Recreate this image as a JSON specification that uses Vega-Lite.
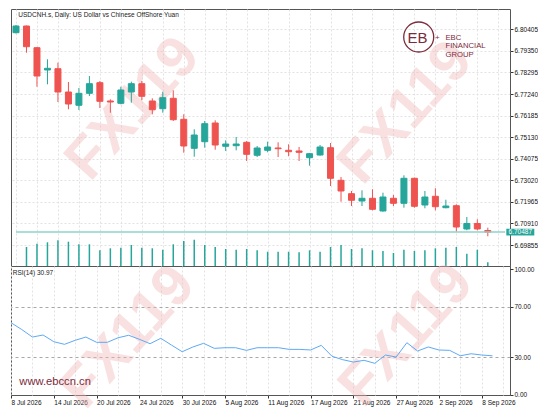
{
  "$schema": "https://vega.github.io/schema/vega-lite/v6.json",
  "background": "white",
  "padding": {"left": 10, "top": 8, "right": 0, "bottom": 0},
  "datasets": {
    "candles": [
      {"date": "2026-07-08", "i": 0, "o": 6.80239, "h": 6.80615, "l": 6.80200, "c": 6.80566, "v": null, "rsi": 57.3},
      {"date": "2026-07-09", "i": 1, "o": 6.80566, "h": 6.80591, "l": 6.79261, "c": 6.79554, "v": 19000, "rsi": 51.9},
      {"date": "2026-07-10", "i": 2, "o": 6.79505, "h": 6.79539, "l": 6.77598, "c": 6.78121, "v": 22300, "rsi": 45.9},
      {"date": "2026-07-13", "i": 3, "o": 6.78415, "h": 6.78938, "l": 6.77715, "c": 6.78498, "v": 23700, "rsi": 47.5},
      {"date": "2026-07-14", "i": 4, "o": 6.78478, "h": 6.78772, "l": 6.76850, "c": 6.77339, "v": 25700, "rsi": 42.2},
      {"date": "2026-07-15", "i": 5, "o": 6.77339, "h": 6.77828, "l": 6.76493, "c": 6.76752, "v": 24300, "rsi": 40.1},
      {"date": "2026-07-16", "i": 6, "o": 6.76689, "h": 6.77535, "l": 6.76459, "c": 6.77275, "v": 21700, "rsi": 43.3},
      {"date": "2026-07-17", "i": 7, "o": 6.77275, "h": 6.78121, "l": 6.77143, "c": 6.77745, "v": 21700, "rsi": 45.9},
      {"date": "2026-07-20", "i": 8, "o": 6.77794, "h": 6.77877, "l": 6.76557, "c": 6.76884, "v": 15700, "rsi": 41.7},
      {"date": "2026-07-21", "i": 9, "o": 6.76899, "h": 6.76982, "l": 6.76327, "c": 6.76850, "v": 17700, "rsi": 41.7},
      {"date": "2026-07-22", "i": 10, "o": 6.76786, "h": 6.77598, "l": 6.76762, "c": 6.77437, "v": 18300, "rsi": 45.3},
      {"date": "2026-07-23", "i": 11, "o": 6.77339, "h": 6.77843, "l": 6.76816, "c": 6.77745, "v": 21000, "rsi": 47.3},
      {"date": "2026-07-24", "i": 12, "o": 6.77745, "h": 6.77877, "l": 6.76933, "c": 6.77129, "v": 18300, "rsi": 44.1},
      {"date": "2026-07-27", "i": 13, "o": 6.76899, "h": 6.77031, "l": 6.76248, "c": 6.76473, "v": 17700, "rsi": 40.6},
      {"date": "2026-07-28", "i": 14, "o": 6.76522, "h": 6.77354, "l": 6.76327, "c": 6.77060, "v": 16300, "rsi": 44.9},
      {"date": "2026-07-29", "i": 15, "o": 6.77031, "h": 6.77422, "l": 6.75921, "c": 6.75984, "v": 21700, "rsi": 39.5},
      {"date": "2026-07-30", "i": 16, "o": 6.76004, "h": 6.76248, "l": 6.74371, "c": 6.74698, "v": 25000, "rsi": 34.2},
      {"date": "2026-07-31", "i": 17, "o": 6.74586, "h": 6.75515, "l": 6.74175, "c": 6.75236, "v": 26300, "rsi": 38.0},
      {"date": "2026-08-03", "i": 18, "o": 6.74909, "h": 6.75921, "l": 6.74615, "c": 6.75789, "v": 21000, "rsi": 40.9},
      {"date": "2026-08-04", "i": 19, "o": 6.75823, "h": 6.75955, "l": 6.74517, "c": 6.74747, "v": 19000, "rsi": 36.9},
      {"date": "2026-08-05", "i": 20, "o": 6.74684, "h": 6.74977, "l": 6.74454, "c": 6.74796, "v": 17000, "rsi": 37.4},
      {"date": "2026-08-06", "i": 21, "o": 6.74713, "h": 6.75138, "l": 6.74488, "c": 6.74796, "v": 16300, "rsi": 37.4},
      {"date": "2026-08-07", "i": 22, "o": 6.74879, "h": 6.74943, "l": 6.73965, "c": 6.74292, "v": 17000, "rsi": 35.3},
      {"date": "2026-08-10", "i": 23, "o": 6.74244, "h": 6.74698, "l": 6.74160, "c": 6.74601, "v": 15700, "rsi": 37.4},
      {"date": "2026-08-11", "i": 24, "o": 6.74488, "h": 6.74909, "l": 6.74390, "c": 6.74649, "v": 14300, "rsi": 37.4},
      {"date": "2026-08-12", "i": 25, "o": 6.74601, "h": 6.74879, "l": 6.74160, "c": 6.74566, "v": 14300, "rsi": 37.4},
      {"date": "2026-08-13", "i": 26, "o": 6.74488, "h": 6.74781, "l": 6.74195, "c": 6.74420, "v": 14300, "rsi": 36.1},
      {"date": "2026-08-14", "i": 27, "o": 6.74454, "h": 6.74649, "l": 6.73965, "c": 6.74390, "v": 13700, "rsi": 36.1},
      {"date": "2026-08-17", "i": 28, "o": 6.74126, "h": 6.74356, "l": 6.73735, "c": 6.74322, "v": 15700, "rsi": 35.6},
      {"date": "2026-08-18", "i": 29, "o": 6.74258, "h": 6.74747, "l": 6.74224, "c": 6.74649, "v": 14300, "rsi": 39.3},
      {"date": "2026-08-19", "i": 30, "o": 6.74615, "h": 6.74845, "l": 6.72742, "c": 6.73119, "v": 19000, "rsi": 30.6},
      {"date": "2026-08-20", "i": 31, "o": 6.73021, "h": 6.73182, "l": 6.71975, "c": 6.72498, "v": 21000, "rsi": 27.9},
      {"date": "2026-08-21", "i": 32, "o": 6.72366, "h": 6.72498, "l": 6.71764, "c": 6.72043, "v": 17000, "rsi": 26.0},
      {"date": "2026-08-24", "i": 33, "o": 6.72009, "h": 6.72532, "l": 6.71764, "c": 6.72141, "v": 17700, "rsi": 27.4},
      {"date": "2026-08-25", "i": 34, "o": 6.72141, "h": 6.72581, "l": 6.71554, "c": 6.71603, "v": 15700, "rsi": 25.0},
      {"date": "2026-08-26", "i": 35, "o": 6.71520, "h": 6.72415, "l": 6.71486, "c": 6.72204, "v": 15000, "rsi": 31.6},
      {"date": "2026-08-27", "i": 36, "o": 6.72141, "h": 6.72302, "l": 6.71764, "c": 6.71896, "v": 13000, "rsi": 30.0},
      {"date": "2026-08-28", "i": 37, "o": 6.71896, "h": 6.73265, "l": 6.71681, "c": 6.73119, "v": 16300, "rsi": 41.4},
      {"date": "2026-08-31", "i": 38, "o": 6.73119, "h": 6.73148, "l": 6.71681, "c": 6.71750, "v": 15000, "rsi": 34.8},
      {"date": "2026-09-01", "i": 39, "o": 6.71813, "h": 6.72498, "l": 6.71652, "c": 6.72204, "v": 15700, "rsi": 38.0},
      {"date": "2026-09-02", "i": 40, "o": 6.72239, "h": 6.72630, "l": 6.71554, "c": 6.71730, "v": 17700, "rsi": 35.6},
      {"date": "2026-09-03", "i": 41, "o": 6.71681, "h": 6.72072, "l": 6.71652, "c": 6.71764, "v": 18300, "rsi": 35.3},
      {"date": "2026-09-04", "i": 42, "o": 6.71779, "h": 6.71847, "l": 6.70508, "c": 6.70737, "v": 19000, "rsi": 31.0},
      {"date": "2026-09-07", "i": 43, "o": 6.70640, "h": 6.71226, "l": 6.70576, "c": 6.70909, "v": 12300, "rsi": 32.6},
      {"date": "2026-09-08", "i": 44, "o": 6.70909, "h": 6.71114, "l": 6.70576, "c": 6.70640, "v": 16300, "rsi": 31.6},
      {"date": "2026-09-09", "i": 45, "o": 6.70566, "h": 6.70703, "l": 6.70283, "c": 6.70487, "v": 3700, "rsi": 30.97}
    ]
  },
  "spacing": 0,
  "bounds": "flush",
  "vconcat": [
    {
      "width": 499,
      "height": 257,
      "data": {"name": "candles"},
      "layer": [
        {
          "layer": [
            {
              "transform": [{"filter": "datum.i === 0"}],
              "mark": {"type": "text", "text": "FX119", "font": "Liberation Sans", "fontWeight": "bold", "fontSize": 58, "angle": 312, "align": "center", "baseline": "middle", "color": "#f2b8b8", "opacity": 0.42, "clip": false},
              "encoding": {
                "x": {"datum": 11.2, "type": "quantitative", "scale": {"domain": [0, 46.64], "nice": false, "zero": false}, "axis": {"title": null, "labels": false, "ticks": false, "domain": false, "grid": true, "minExtent": 0, "maxExtent": 0, "values": [0,2,4,6,8,10,12,14,16,18,20,22,24,26,28,30,32,34,36,38,40,42,44,46]}},
                "y": {"datum": 6.76508, "type": "quantitative", "scale": {"domain": [6.6883, 6.81398], "nice": false, "zero": false}, "axis": {"orient": "right", "title": null, "values": [6.69855, 6.7091, 6.71965, 6.7302, 6.74075, 6.7513, 6.76185, 6.7724, 6.78295, 6.7935, 6.80405], "format": ".5f", "grid": true, "domain": false, "tickSize": 3, "labelPadding": 1}}
              }
            },
            {
              "transform": [{"filter": "datum.i === 0"}],
              "mark": {"type": "text", "text": "FX119", "font": "Liberation Sans", "fontWeight": "bold", "fontSize": 58, "angle": 312, "align": "center", "baseline": "middle", "color": "#f2b8b8", "opacity": 0.42, "clip": false},
              "encoding": {
                "x": {"datum": 37.2, "type": "quantitative", "scale": {"domain": [0, 46.64], "nice": false, "zero": false}, "axis": {"title": null, "labels": false, "ticks": false, "domain": false, "grid": true, "minExtent": 0, "maxExtent": 0, "values": [0,2,4,6,8,10,12,14,16,18,20,22,24,26,28,30,32,34,36,38,40,42,44,46]}},
                "y": {"datum": 6.76312, "type": "quantitative", "scale": {"domain": [6.6883, 6.81398], "nice": false, "zero": false}, "axis": {"orient": "right", "title": null, "values": [6.69855, 6.7091, 6.71965, 6.7302, 6.74075, 6.7513, 6.76185, 6.7724, 6.78295, 6.7935, 6.80405], "format": ".5f", "grid": true, "domain": false, "tickSize": 3, "labelPadding": 1}}
              }
            },
            {
              "transform": [{"filter": "datum.i === 0"}],
              "mark": {"type": "text", "text": "USDCNH.s, Daily:  US Dollar vs Chinese OffShore Yuan", "font": "Liberation Sans", "fontSize": 6.5, "align": "left", "baseline": "alphabetic", "color": "#222222", "clip": false},
              "encoding": {
                "x": {"datum": 0.22, "type": "quantitative", "scale": {"domain": [0, 46.64], "nice": false, "zero": false}, "axis": {"title": null, "labels": false, "ticks": false, "domain": false, "grid": true, "minExtent": 0, "maxExtent": 0, "values": [0,2,4,6,8,10,12,14,16,18,20,22,24,26,28,30,32,34,36,38,40,42,44,46]}},
                "y": {"datum": 6.81, "type": "quantitative", "scale": {"domain": [6.6883, 6.81398], "nice": false, "zero": false}, "axis": {"orient": "right", "title": null, "values": [6.69855, 6.7091, 6.71965, 6.7302, 6.74075, 6.7513, 6.76185, 6.7724, 6.78295, 6.7935, 6.80405], "format": ".5f", "grid": true, "domain": false, "tickSize": 3, "labelPadding": 1}}
              }
            },
            {
              "transform": [{"filter": "datum.i === 0"}],
              "mark": {"type": "point", "shape": "circle", "filled": false, "size": 900, "stroke": "#7b2c3c", "strokeWidth": 1.3, "opacity": 1, "clip": false},
              "encoding": {
                "x": {"datum": 38.41, "type": "quantitative", "scale": {"domain": [0, 46.64], "nice": false, "zero": false}, "axis": {"title": null, "labels": false, "ticks": false, "domain": false, "grid": true, "minExtent": 0, "maxExtent": 0, "values": [0,2,4,6,8,10,12,14,16,18,20,22,24,26,28,30,32,34,36,38,40,42,44,46]}},
                "y": {"datum": 6.80028, "type": "quantitative", "scale": {"domain": [6.6883, 6.81398], "nice": false, "zero": false}, "axis": {"orient": "right", "title": null, "values": [6.69855, 6.7091, 6.71965, 6.7302, 6.74075, 6.7513, 6.76185, 6.7724, 6.78295, 6.7935, 6.80405], "format": ".5f", "grid": true, "domain": false, "tickSize": 3, "labelPadding": 1}}
              }
            },
            {
              "transform": [{"filter": "datum.i === 0"}],
              "mark": {"type": "text", "text": "EB", "font": "Liberation Sans", "fontSize": 15, "align": "center", "baseline": "middle", "color": "#7b2c3c", "clip": false},
              "encoding": {
                "x": {"datum": 38.3, "type": "quantitative", "scale": {"domain": [0, 46.64], "nice": false, "zero": false}, "axis": {"title": null, "labels": false, "ticks": false, "domain": false, "grid": true, "minExtent": 0, "maxExtent": 0, "values": [0,2,4,6,8,10,12,14,16,18,20,22,24,26,28,30,32,34,36,38,40,42,44,46]}},
                "y": {"datum": 6.7998, "type": "quantitative", "scale": {"domain": [6.6883, 6.81398], "nice": false, "zero": false}, "axis": {"orient": "right", "title": null, "values": [6.69855, 6.7091, 6.71965, 6.7302, 6.74075, 6.7513, 6.76185, 6.7724, 6.78295, 6.7935, 6.80405], "format": ".5f", "grid": true, "domain": false, "tickSize": 3, "labelPadding": 1}}
              }
            },
            {
              "transform": [{"filter": "datum.i === 0"}],
              "mark": {"type": "text", "text": "+", "font": "Liberation Sans", "fontSize": 8, "align": "center", "baseline": "middle", "color": "#7b2c3c", "clip": false},
              "encoding": {
                "x": {"datum": 40.19, "type": "quantitative", "scale": {"domain": [0, 46.64], "nice": false, "zero": false}, "axis": {"title": null, "labels": false, "ticks": false, "domain": false, "grid": true, "minExtent": 0, "maxExtent": 0, "values": [0,2,4,6,8,10,12,14,16,18,20,22,24,26,28,30,32,34,36,38,40,42,44,46]}},
                "y": {"datum": 6.7998, "type": "quantitative", "scale": {"domain": [6.6883, 6.81398], "nice": false, "zero": false}, "axis": {"orient": "right", "title": null, "values": [6.69855, 6.7091, 6.71965, 6.7302, 6.74075, 6.7513, 6.76185, 6.7724, 6.78295, 6.7935, 6.80405], "format": ".5f", "grid": true, "domain": false, "tickSize": 3, "labelPadding": 1}}
              }
            },
            {
              "transform": [{"filter": "datum.i === 0"}],
              "mark": {"type": "text", "text": "EBC\nFINANCIAL\nGROUP", "lineBreak": "\n", "lineHeight": 8.5, "font": "Liberation Sans", "fontSize": 7.7, "align": "left", "baseline": "middle", "color": "#7b2c3c", "clip": false},
              "encoding": {
                "x": {"datum": 40.96, "type": "quantitative", "scale": {"domain": [0, 46.64], "nice": false, "zero": false}, "axis": {"title": null, "labels": false, "ticks": false, "domain": false, "grid": true, "minExtent": 0, "maxExtent": 0, "values": [0,2,4,6,8,10,12,14,16,18,20,22,24,26,28,30,32,34,36,38,40,42,44,46]}},
                "y": {"datum": 6.79994, "type": "quantitative", "scale": {"domain": [6.6883, 6.81398], "nice": false, "zero": false}, "axis": {"orient": "right", "title": null, "values": [6.69855, 6.7091, 6.71965, 6.7302, 6.74075, 6.7513, 6.76185, 6.7724, 6.78295, 6.7935, 6.80405], "format": ".5f", "grid": true, "domain": false, "tickSize": 3, "labelPadding": 1}}
              }
            },
            {
              "mark": {"type": "rule", "strokeWidth": 1, "clip": true},
              "encoding": {
                "x": {"field": "i", "type": "quantitative", "scale": {"domain": [0, 46.64], "nice": false, "zero": false}, "axis": {"title": null, "labels": false, "ticks": false, "domain": false, "grid": true, "minExtent": 0, "maxExtent": 0, "values": [0,2,4,6,8,10,12,14,16,18,20,22,24,26,28,30,32,34,36,38,40,42,44,46]}},
                "y": {"field": "h", "type": "quantitative", "scale": {"domain": [6.6883, 6.81398], "nice": false, "zero": false}, "axis": {"orient": "right", "title": null, "values": [6.69855, 6.7091, 6.71965, 6.7302, 6.74075, 6.7513, 6.76185, 6.7724, 6.78295, 6.7935, 6.80405], "format": ".5f", "grid": true, "domain": false, "tickSize": 3, "labelPadding": 1}},
                "y2": {"field": "l"},
                "stroke": {"condition": {"test": "datum.c >= datum.o", "value": "#26a69a"}, "value": "#ef5350"}
              }
            },
            {
              "mark": {"type": "bar", "size": 6, "strokeWidth": 1, "clip": true},
              "encoding": {
                "x": {"field": "i", "type": "quantitative", "scale": {"domain": [0, 46.64], "nice": false, "zero": false}, "axis": {"title": null, "labels": false, "ticks": false, "domain": false, "grid": true, "minExtent": 0, "maxExtent": 0, "values": [0,2,4,6,8,10,12,14,16,18,20,22,24,26,28,30,32,34,36,38,40,42,44,46]}},
                "y": {"field": "o", "type": "quantitative", "scale": {"domain": [6.6883, 6.81398], "nice": false, "zero": false}, "axis": {"orient": "right", "title": null, "values": [6.69855, 6.7091, 6.71965, 6.7302, 6.74075, 6.7513, 6.76185, 6.7724, 6.78295, 6.7935, 6.80405], "format": ".5f", "grid": true, "domain": false, "tickSize": 3, "labelPadding": 1}},
                "y2": {"field": "c"},
                "fill": {"condition": {"test": "datum.c >= datum.o", "value": "#26a69a"}, "value": "#ef5350"},
                "stroke": {"condition": {"test": "datum.c >= datum.o", "value": "#26a69a"}, "value": "#ef5350"}
              }
            },
            {
              "transform": [{"filter": "datum.i === 45"}],
              "mark": {"type": "rule", "strokeWidth": 1.5, "color": "#8fd3c9"},
              "encoding": {
                "x": {"datum": 0, "type": "quantitative", "scale": {"domain": [0, 46.64], "nice": false, "zero": false}, "axis": {"title": null, "labels": false, "ticks": false, "domain": false, "grid": true, "minExtent": 0, "maxExtent": 0, "values": [0,2,4,6,8,10,12,14,16,18,20,22,24,26,28,30,32,34,36,38,40,42,44,46]}},
                "x2": {"datum": 46.64},
                "y": {"field": "c", "type": "quantitative", "scale": {"domain": [6.6883, 6.81398], "nice": false, "zero": false}, "axis": {"orient": "right", "title": null, "values": [6.69855, 6.7091, 6.71965, 6.7302, 6.74075, 6.7513, 6.76185, 6.7724, 6.78295, 6.7935, 6.80405], "format": ".5f", "grid": true, "domain": false, "tickSize": 3, "labelPadding": 1}}
              }
            },
            {
              "transform": [{"filter": "datum.i === 45"}],
              "mark": {"type": "point", "shape": "M-1,-0.24H1V0.24H-1Z", "filled": true, "size": 784, "color": "#26a69a", "opacity": 1, "clip": false},
              "encoding": {
                "x": {"datum": 48.1, "type": "quantitative", "scale": {"domain": [0, 46.64], "nice": false, "zero": false}, "axis": {"title": null, "labels": false, "ticks": false, "domain": false, "grid": true, "minExtent": 0, "maxExtent": 0, "values": [0,2,4,6,8,10,12,14,16,18,20,22,24,26,28,30,32,34,36,38,40,42,44,46]}},
                "y": {"field": "c", "type": "quantitative", "scale": {"domain": [6.6883, 6.81398], "nice": false, "zero": false}, "axis": {"orient": "right", "title": null, "values": [6.69855, 6.7091, 6.71965, 6.7302, 6.74075, 6.7513, 6.76185, 6.7724, 6.78295, 6.7935, 6.80405], "format": ".5f", "grid": true, "domain": false, "tickSize": 3, "labelPadding": 1}}
              }
            },
            {
              "transform": [{"filter": "datum.i === 45"}],
              "mark": {"type": "text", "font": "Liberation Sans", "fontSize": 6.5, "align": "center", "baseline": "middle", "color": "white", "clip": false},
              "encoding": {
                "x": {"datum": 48.1, "type": "quantitative", "scale": {"domain": [0, 46.64], "nice": false, "zero": false}, "axis": {"title": null, "labels": false, "ticks": false, "domain": false, "grid": true, "minExtent": 0, "maxExtent": 0, "values": [0,2,4,6,8,10,12,14,16,18,20,22,24,26,28,30,32,34,36,38,40,42,44,46]}},
                "y": {"field": "c", "type": "quantitative", "scale": {"domain": [6.6883, 6.81398], "nice": false, "zero": false}, "axis": {"orient": "right", "title": null, "values": [6.69855, 6.7091, 6.71965, 6.7302, 6.74075, 6.7513, 6.76185, 6.7724, 6.78295, 6.7935, 6.80405], "format": ".5f", "grid": true, "domain": false, "tickSize": 3, "labelPadding": 1}},
                "text": {"field": "c", "format": ".5f"}
              }
            }
          ]
        },
        {
          "mark": {"type": "bar", "size": 1.5, "color": "#26a69a", "clip": true},
          "encoding": {
            "x": {"field": "i", "type": "quantitative", "scale": {"domain": [0, 46.64], "nice": false, "zero": false}, "axis": {"title": null, "labels": false, "ticks": false, "domain": false, "grid": true, "minExtent": 0, "maxExtent": 0, "values": [0,2,4,6,8,10,12,14,16,18,20,22,24,26,28,30,32,34,36,38,40,42,44,46]}},
            "y": {"field": "v", "type": "quantitative", "scale": {"domain": [0, 257000], "nice": false}, "axis": null}
          }
        }
      ],
      "resolve": {"scale": {"y": "independent"}}
    },
    {
      "width": 499,
      "height": 129,
      "data": {"name": "candles"},
      "layer": [
        {
          "transform": [{"filter": "datum.i === 0"}],
          "mark": {"type": "text", "text": "FX119", "font": "Liberation Sans", "fontWeight": "bold", "fontSize": 58, "angle": 312, "align": "center", "baseline": "middle", "color": "#f2b8b8", "opacity": 0.42, "clip": false},
          "encoding": {
            "x": {"datum": 11.0, "type": "quantitative", "scale": {"domain": [0, 46.64], "nice": false, "zero": false}, "axis": {"title": null, "domain": false, "grid": true, "values": [0,2,4,6,8,10,12,14,16,18,20,22,24,26,28,30,32,34,36,38,40,42,44,46], "tickSize": 3, "tickOpacity": {"condition": {"test": "datum.value % 4 === 0", "value": 1}, "value": 0}, "labelAlign": "left", "labelPadding": 1, "labelOverlap": false, "labelBound": false, "labelFlush": false, "labelExpr": "datum.value % 4 === 0 ? ['8 Jul 2026','14 Jul 2026','20 Jul 2026','24 Jul 2026','30 Jul 2026','5 Aug 2026','11 Aug 2026','17 Aug 2026','21 Aug 2026','27 Aug 2026','2 Sep 2026','8 Sep 2026'][datum.value / 4] : ''"}},
            "y": {"datum": 45.5, "type": "quantitative", "scale": {"domain": [-0.2, 102.4], "nice": false, "zero": false}, "axis": {"orient": "right", "title": null, "values": [0, 30, 70, 100], "format": ".2f", "domain": false, "tickSize": 3, "labelPadding": 1, "grid": true, "gridColor": "#a8a8a8", "gridDash": [3, 3], "gridOpacity": {"condition": {"test": "datum.value === 30 || datum.value === 70", "value": 1}, "value": 0}}}
          }
        },
        {
          "transform": [{"filter": "datum.i === 0"}],
          "mark": {"type": "text", "text": "FX119", "font": "Liberation Sans", "fontWeight": "bold", "fontSize": 58, "angle": 312, "align": "center", "baseline": "middle", "color": "#f2b8b8", "opacity": 0.42, "clip": false},
          "encoding": {
            "x": {"datum": 37.0, "type": "quantitative", "scale": {"domain": [0, 46.64], "nice": false, "zero": false}, "axis": {"title": null, "domain": false, "grid": true, "values": [0,2,4,6,8,10,12,14,16,18,20,22,24,26,28,30,32,34,36,38,40,42,44,46], "tickSize": 3, "tickOpacity": {"condition": {"test": "datum.value % 4 === 0", "value": 1}, "value": 0}, "labelAlign": "left", "labelPadding": 1, "labelOverlap": false, "labelBound": false, "labelFlush": false, "labelExpr": "datum.value % 4 === 0 ? ['8 Jul 2026','14 Jul 2026','20 Jul 2026','24 Jul 2026','30 Jul 2026','5 Aug 2026','11 Aug 2026','17 Aug 2026','21 Aug 2026','27 Aug 2026','2 Sep 2026','8 Sep 2026'][datum.value / 4] : ''"}},
            "y": {"datum": 47.0, "type": "quantitative", "scale": {"domain": [-0.2, 102.4], "nice": false, "zero": false}, "axis": {"orient": "right", "title": null, "values": [0, 30, 70, 100], "format": ".2f", "domain": false, "tickSize": 3, "labelPadding": 1, "grid": true, "gridColor": "#a8a8a8", "gridDash": [3, 3], "gridOpacity": {"condition": {"test": "datum.value === 30 || datum.value === 70", "value": 1}, "value": 0}}}
          }
        },
        {
          "transform": [{"filter": "datum.i === 0"}],
          "mark": {"type": "text", "text": "www.ebccn.cn", "font": "Liberation Sans", "fontSize": 11.2, "align": "left", "baseline": "middle", "color": "#7b2c3c", "clip": false},
          "encoding": {
            "x": {"datum": 0.78, "type": "quantitative", "scale": {"domain": [0, 46.64], "nice": false, "zero": false}, "axis": {"title": null, "domain": false, "grid": true, "values": [0,2,4,6,8,10,12,14,16,18,20,22,24,26,28,30,32,34,36,38,40,42,44,46], "tickSize": 3, "tickOpacity": {"condition": {"test": "datum.value % 4 === 0", "value": 1}, "value": 0}, "labelAlign": "left", "labelPadding": 1, "labelOverlap": false, "labelBound": false, "labelFlush": false, "labelExpr": "datum.value % 4 === 0 ? ['8 Jul 2026','14 Jul 2026','20 Jul 2026','24 Jul 2026','30 Jul 2026','5 Aug 2026','11 Aug 2026','17 Aug 2026','21 Aug 2026','27 Aug 2026','2 Sep 2026','8 Sep 2026'][datum.value / 4] : ''"}},
            "y": {"datum": 10.1, "type": "quantitative", "scale": {"domain": [-0.2, 102.4], "nice": false, "zero": false}, "axis": {"orient": "right", "title": null, "values": [0, 30, 70, 100], "format": ".2f", "domain": false, "tickSize": 3, "labelPadding": 1, "grid": true, "gridColor": "#a8a8a8", "gridDash": [3, 3], "gridOpacity": {"condition": {"test": "datum.value === 30 || datum.value === 70", "value": 1}, "value": 0}}}
          }
        },
        {
          "transform": [{"filter": "datum.i === 0"}],
          "mark": {"type": "text", "text": "RSI(14) 30.97", "font": "Liberation Sans", "fontSize": 6.5, "align": "left", "baseline": "alphabetic", "color": "#222222", "clip": false},
          "encoding": {
            "x": {"datum": 0.16, "type": "quantitative", "scale": {"domain": [0, 46.64], "nice": false, "zero": false}, "axis": {"title": null, "domain": false, "grid": true, "values": [0,2,4,6,8,10,12,14,16,18,20,22,24,26,28,30,32,34,36,38,40,42,44,46], "tickSize": 3, "tickOpacity": {"condition": {"test": "datum.value % 4 === 0", "value": 1}, "value": 0}, "labelAlign": "left", "labelPadding": 1, "labelOverlap": false, "labelBound": false, "labelFlush": false, "labelExpr": "datum.value % 4 === 0 ? ['8 Jul 2026','14 Jul 2026','20 Jul 2026','24 Jul 2026','30 Jul 2026','5 Aug 2026','11 Aug 2026','17 Aug 2026','21 Aug 2026','27 Aug 2026','2 Sep 2026','8 Sep 2026'][datum.value / 4] : ''"}},
            "y": {"datum": 95.0, "type": "quantitative", "scale": {"domain": [-0.2, 102.4], "nice": false, "zero": false}, "axis": {"orient": "right", "title": null, "values": [0, 30, 70, 100], "format": ".2f", "domain": false, "tickSize": 3, "labelPadding": 1, "grid": true, "gridColor": "#a8a8a8", "gridDash": [3, 3], "gridOpacity": {"condition": {"test": "datum.value === 30 || datum.value === 70", "value": 1}, "value": 0}}}
          }
        },
        {
          "mark": {"type": "line", "color": "#5eaaf5", "strokeWidth": 1, "clip": true},
          "encoding": {
            "x": {"field": "i", "type": "quantitative", "scale": {"domain": [0, 46.64], "nice": false, "zero": false}, "axis": {"title": null, "domain": false, "grid": true, "values": [0,2,4,6,8,10,12,14,16,18,20,22,24,26,28,30,32,34,36,38,40,42,44,46], "tickSize": 3, "tickOpacity": {"condition": {"test": "datum.value % 4 === 0", "value": 1}, "value": 0}, "labelAlign": "left", "labelPadding": 1, "labelOverlap": false, "labelBound": false, "labelFlush": false, "labelExpr": "datum.value % 4 === 0 ? ['8 Jul 2026','14 Jul 2026','20 Jul 2026','24 Jul 2026','30 Jul 2026','5 Aug 2026','11 Aug 2026','17 Aug 2026','21 Aug 2026','27 Aug 2026','2 Sep 2026','8 Sep 2026'][datum.value / 4] : ''"}},
            "y": {"field": "rsi", "type": "quantitative", "scale": {"domain": [-0.2, 102.4], "nice": false, "zero": false}, "axis": {"orient": "right", "title": null, "values": [0, 30, 70, 100], "format": ".2f", "domain": false, "tickSize": 3, "labelPadding": 1, "grid": true, "gridColor": "#a8a8a8", "gridDash": [3, 3], "gridOpacity": {"condition": {"test": "datum.value === 30 || datum.value === 70", "value": 1}, "value": 0}}}
          }
        }
      ]
    }
  ],
  "config": {
    "view": {"stroke": "#555555", "strokeWidth": 1},
    "axis": {"labelFont": "Liberation Sans", "labelFontSize": 6.5, "labelColor": "#111111", "tickColor": "#333333", "gridColor": "#e2e2e2", "gridDash": [2, 2], "gridWidth": 1},
    "concat": {"spacing": 0}
  }
}
